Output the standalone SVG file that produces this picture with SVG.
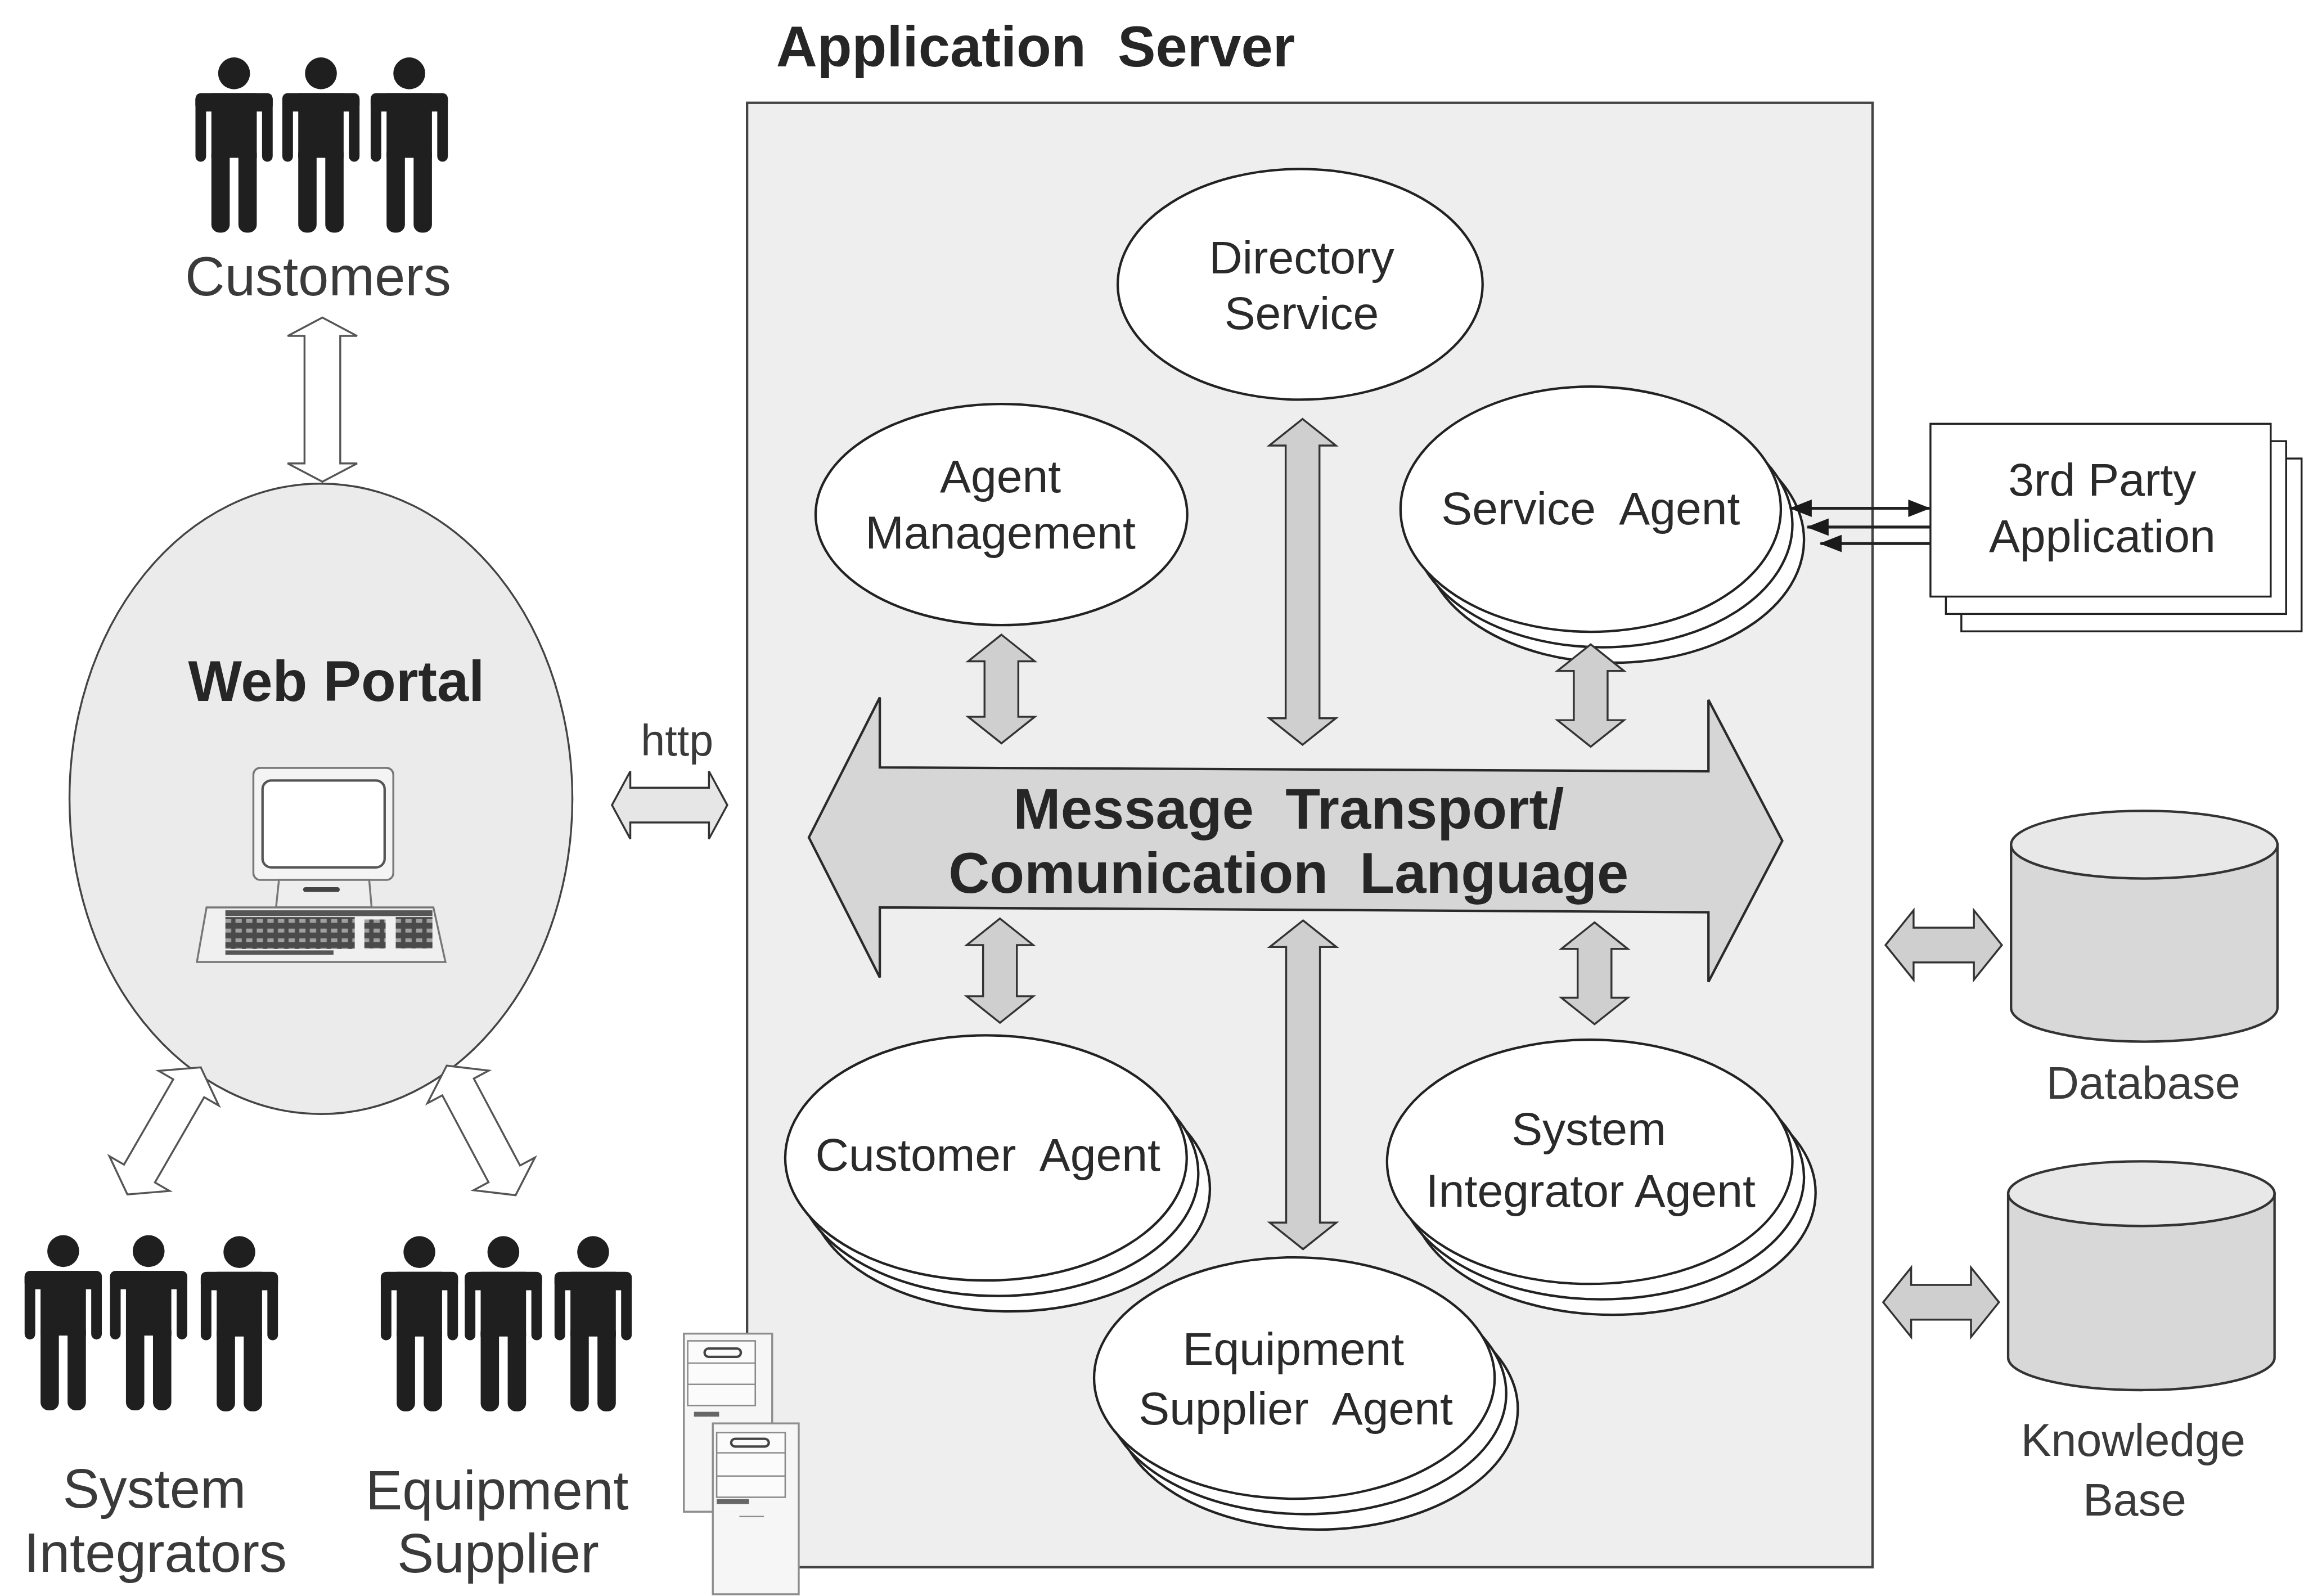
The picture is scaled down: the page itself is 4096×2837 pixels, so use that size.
<svg xmlns="http://www.w3.org/2000/svg" width="4096" height="2837" viewBox="0 0 4096 2837">
<style>
  .lbl { font-family: "Liberation Sans", Arial, sans-serif; font-size: 114px; fill: #3a3a3a; text-anchor: middle; }
  .small { font-size: 94px; }
  .agent { font-family: "Liberation Sans", Arial, sans-serif; font-size: 96px; fill: #2a2a2a; text-anchor: middle; white-space: pre; }
  .bold { font-family: "Liberation Sans", Arial, sans-serif; font-weight: bold; font-size: 118px; fill: #262626; white-space: pre; }
  .ell { fill: #ffffff; stroke: #222222; stroke-width: 5; }
  .garrow { fill: #cfcfcf; stroke: #333333; stroke-width: 4; stroke-linejoin: miter; }
  .warrow { fill: #ffffff; stroke: #555555; stroke-width: 4; stroke-linejoin: miter; }
  .cyl { fill: #d8d8d8; stroke: #333333; stroke-width: 5; }
  .cyltop { fill: #e8e8e8; stroke: #333333; stroke-width: 5; }
  .srv { fill: #f6f6f6; stroke: #8e8e8e; stroke-width: 4; }
  .srvline { stroke: #8e8e8e; stroke-width: 3; fill: none; }
  .person { fill: #1f1f1f; }
  .link { stroke: #222222; stroke-width: 6; fill: none; }
  .page { fill: #ffffff; stroke: #222222; stroke-width: 4; }
</style>
<defs>
  <!-- standing figure, origin at the centre of the head -->
  <g id="person" class="person">
    <circle cx="0" cy="0" r="33"/>
    <rect x="-80" y="41" width="160" height="38" rx="14"/>
    <rect x="-80" y="41" width="22" height="142" rx="11"/>
    <rect x="58" y="41" width="22" height="142" rx="11"/>
    <rect x="-47" y="41" width="94" height="134"/>
    <rect x="-47" y="150" width="38" height="180" rx="17"/>
    <rect x="9" y="150" width="38" height="180" rx="17"/>
  </g>
  <pattern id="keys" width="22" height="20" patternUnits="userSpaceOnUse">
    <rect width="22" height="20" fill="#4a4a4a"/>
    <rect x="4" y="4" width="13" height="8" fill="#a0a0a0"/>
  </pattern>
  <marker id="tip" markerUnits="userSpaceOnUse" markerWidth="46" markerHeight="36" viewBox="0 0 46 36" refX="44" refY="18" orient="auto-start-reverse">
    <path d="M0,0 L46,18 L0,36 Z" fill="#1a1a1a"/>
  </marker>
</defs>

<rect width="4096" height="2837" fill="#ffffff"/>

<g transform="scale(0.85798)">

  <!-- application server frame -->
  <g id="app-server">
    <rect x="1548" y="213" width="2332" height="3034" fill="#eeeeee" stroke="#444444" stroke-width="5"/>
    <text class="bold" x="1608" y="137" fill="#333333">Application  Server</text>
  </g>

  <!-- message bus -->
  <g id="message-bus">
    <path d="M1676,1735 L1823,1445 L1823,1590 L3540,1598 L3540,1450 L3693,1742 L3540,2034 L3540,1890 L1823,1880 L1823,2025 Z" fill="#d6d6d6" stroke="#2a2a2a" stroke-width="5" stroke-linejoin="miter"/>
    <text class="bold" x="2670" y="1717" text-anchor="middle">Message  Transport/</text>
    <text class="bold" x="2670" y="1850" text-anchor="middle">Comunication  Language</text>
  </g>

  <!-- agents -->
  <g id="directory-service">
    <ellipse class="ell" cx="2694" cy="589" rx="378" ry="239"/>
    <text class="agent" x="2697" y="566">Directory</text>
    <text class="agent" x="2697" y="682">Service</text>
  </g>

  <g id="agent-management">
    <ellipse class="ell" cx="2075" cy="1066" rx="385" ry="229"/>
    <text class="agent" x="2073" y="1020">Agent</text>
    <text class="agent" x="2073" y="1136">Management</text>
  </g>

  <g id="service-agent">
    <ellipse class="ell" cx="3344" cy="1119" rx="394" ry="254"/>
    <ellipse class="ell" cx="3320" cy="1087" rx="394" ry="254"/>
    <ellipse class="ell" cx="3296" cy="1055" rx="394" ry="254"/>
    <text class="agent" x="3296" y="1086">Service  Agent</text>
  </g>

  <g id="customer-agent">
    <ellipse class="ell" cx="2091" cy="2463" rx="416" ry="254"/>
    <ellipse class="ell" cx="2067" cy="2431" rx="416" ry="254"/>
    <ellipse class="ell" cx="2043" cy="2399" rx="416" ry="254"/>
    <text class="agent" x="2047" y="2425">Customer  Agent</text>
  </g>

  <g id="system-integrator-agent">
    <ellipse class="ell" cx="3342" cy="2471" rx="420" ry="253"/>
    <ellipse class="ell" cx="3318" cy="2439" rx="420" ry="253"/>
    <ellipse class="ell" cx="3294" cy="2407" rx="420" ry="253"/>
    <text class="agent" x="3292" y="2372">System</text>
    <text class="agent" x="3296" y="2500">Integrator Agent</text>
  </g>

  <g id="equipment-supplier-agent">
    <ellipse class="ell" cx="2730" cy="2919" rx="415" ry="250"/>
    <ellipse class="ell" cx="2706" cy="2887" rx="415" ry="250"/>
    <ellipse class="ell" cx="2682" cy="2855" rx="415" ry="250"/>
    <text class="agent" x="2680" y="2828">Equipment</text>
    <text class="agent" x="2685" y="2951">Supplier  Agent</text>
  </g>

  <!-- hosting servers -->
  <g id="servers">
    <rect class="srv" x="1417" y="2763" width="183" height="369"/>
    <rect x="1425" y="2778" width="140" height="134" fill="#fbfbfb" stroke="#8a8a8a" stroke-width="3"/>
    <path class="srvline" d="M1425,2824 H1565 M1425,2868 H1565"/>
    <rect x="1460" y="2794" width="75" height="17" rx="8" fill="none" stroke="#444444" stroke-width="5"/>
    <rect x="1438" y="2925" width="52" height="10" fill="#666666"/>
    <rect class="srv" x="1477" y="2949" width="178" height="354"/>
    <rect x="1485" y="2968" width="142" height="134" fill="#fbfbfb" stroke="#8a8a8a" stroke-width="3"/>
    <path class="srvline" d="M1485,3010 H1627 M1485,3058 H1627"/>
    <rect x="1515" y="2981" width="78" height="16" rx="8" fill="none" stroke="#444444" stroke-width="5"/>
    <rect x="1485" y="3106" width="67" height="10" fill="#666666"/>
    <path class="srvline" d="M1532,3142 H1583"/>
  </g>

  <!-- web portal -->
  <g id="web-portal">
    <ellipse cx="665" cy="1655" rx="521" ry="653" fill="#ebebeb" stroke="#444444" stroke-width="4"/>
    <text class="bold" x="697" y="1452" text-anchor="middle">Web Portal</text>
    <!-- workstation -->
    <rect x="525" y="1591" width="290" height="232" rx="14" fill="#f4f4f4" stroke="#777777" stroke-width="4"/>
    <rect x="544" y="1617" width="253" height="180" rx="18" fill="#ffffff" stroke="#555555" stroke-width="5"/>
    <path d="M578,1823 L765,1823 L770,1880 L572,1880 Z" fill="#eeeeee" stroke="#777777" stroke-width="4"/>
    <rect x="628" y="1838" width="76" height="10" rx="5" fill="#444444"/>
    <path d="M428,1880 L898,1880 L923,1993 L408,1993 Z" fill="#f0f0f0" stroke="#777777" stroke-width="4"/>
    <rect x="467" y="1886" width="429" height="12" fill="#555555"/>
    <rect x="467" y="1900" width="268" height="66" fill="url(#keys)"/>
    <rect x="755" y="1905" width="44" height="60" fill="url(#keys)"/>
    <rect x="820" y="1900" width="76" height="65" fill="url(#keys)"/>
    <rect x="467" y="1969" width="224" height="9" fill="#555555"/>
  </g>

  <!-- user groups -->
  <g id="customers">
    <use href="#person" x="485" y="152"/>
    <use href="#person" x="665" y="152"/>
    <use href="#person" x="848" y="152"/>
    <text class="lbl" x="659" y="612">Customers</text>
  </g>

  <g id="system-integrators">
    <use href="#person" x="131" y="2592"/>
    <use href="#person" x="308" y="2592"/>
    <use href="#person" x="496" y="2594"/>
    <text class="lbl" x="320" y="3124">System</text>
    <text class="lbl" x="322" y="3256">Integrators</text>
  </g>

  <g id="equipment-supplier">
    <use href="#person" x="869" y="2594"/>
    <use href="#person" x="1043" y="2594"/>
    <use href="#person" x="1229" y="2594"/>
    <text class="lbl" x="1030" y="3127">Equipment</text>
    <text class="lbl" x="1032" y="3258">Supplier</text>
  </g>

  <!-- external resources -->
  <g id="third-party-application">
    <rect class="page" x="4064" y="950" width="705" height="358"/>
    <rect class="page" x="4032" y="914" width="705" height="358"/>
    <rect class="page" x="4000" y="878" width="705" height="358"/>
    <text class="agent" x="4356" y="1027">3rd Party</text>
    <text class="agent" x="4356" y="1143">Application</text>
  </g>

  <g id="database">
    <path class="cyl" d="M4167,1750 L4167,2088 A276,70 0 0 0 4719,2088 L4719,1750 Z"/>
    <ellipse class="cyltop" cx="4443" cy="1750" rx="276" ry="70"/>
    <text class="lbl small" x="4441" y="2276">Database</text>
  </g>

  <g id="knowledge-base">
    <path class="cyl" d="M4161,2473 L4161,2813 A276,67 0 0 0 4713,2813 L4713,2473 Z"/>
    <ellipse class="cyltop" cx="4437" cy="2473" rx="276" ry="67"/>
    <text class="lbl small" x="4420" y="3016">Knowledge</text>
    <text class="lbl small" x="4423" y="3140">Base</text>
  </g>

  <!-- connectors -->
  <g id="connectors">
    <!-- agents to the message bus -->
    <path class="garrow" d="M2075,1315 L2144,1370 L2110,1370 L2110,1485 L2144,1485 L2075,1540 L2006,1485 L2040,1485 L2040,1370 L2006,1370 Z"/>
    <path class="garrow" d="M2699,868 L2768,923 L2734,923 L2734,1488 L2768,1488 L2699,1543 L2630,1488 L2664,1488 L2664,923 L2630,923 Z"/>
    <path class="garrow" d="M3296,1335 L3365,1390 L3331,1390 L3331,1492 L3365,1492 L3296,1547 L3227,1492 L3261,1492 L3261,1390 L3227,1390 Z"/>
    <path class="garrow" d="M2072,1903 L2141,1958 L2107,1958 L2107,2064 L2141,2064 L2072,2119 L2003,2064 L2037,2064 L2037,1958 L2003,1958 Z"/>
    <path class="garrow" d="M2700,1907 L2769,1962 L2735,1962 L2735,2533 L2769,2533 L2700,2588 L2631,2533 L2665,2533 L2665,1962 L2631,1962 Z"/>
    <path class="garrow" d="M3304,1911 L3373,1966 L3339,1966 L3339,2067 L3373,2067 L3304,2122 L3235,2067 L3269,2067 L3269,1966 L3235,1966 Z"/>

    <!-- storage links -->
    <path class="garrow" d="M3907,1958 L3965,1886 L3965,1922 L4090,1922 L4090,1886 L4148,1958 L4090,2030 L4090,1994 L3965,1994 L3965,2030 Z"/>
    <path class="garrow" d="M3902,2698 L3960,2626 L3960,2662 L4084,2662 L4084,2626 L4142,2698 L4084,2770 L4084,2734 L3960,2734 L3960,2770 Z"/>

    <!-- portal to server -->
    <path class="garrow" style="fill:#e6e6e6" d="M1268,1668 L1306,1598 L1306,1632 L1469,1632 L1469,1598 L1507,1668 L1469,1738 L1469,1704 L1306,1704 L1306,1738 Z"/>
    <text class="lbl" style="font-size:90px" x="1403" y="1565">http</text>

    <!-- portal to user groups -->
    <path class="warrow" d="M668,658 L740,696 L705,696 L705,960 L740,960 L668,998 L596,960 L631,960 L631,696 L596,696 Z"/>
    <path class="warrow" transform="translate(340,2343) rotate(-60)" d="M-152,0 L-102,-72 L-102,-37 L102,-37 L102,-72 L152,0 L102,72 L102,37 L-102,37 L-102,72 Z"/>
    <path class="warrow" transform="translate(997,2342) rotate(62)" d="M-152,0 L-102,-72 L-102,-37 L102,-37 L102,-72 L152,0 L102,72 L102,37 L-102,37 L-102,72 Z"/>

    <!-- service agent to third party application -->
    <path class="link" d="M3710,1053 L3998,1053" marker-start="url(#tip)" marker-end="url(#tip)"/>
    <path class="link" d="M3745,1092 L4000,1092" marker-start="url(#tip)"/>
    <path class="link" d="M3772,1126 L4000,1126" marker-start="url(#tip)"/>
  </g>
</g>
</svg>
